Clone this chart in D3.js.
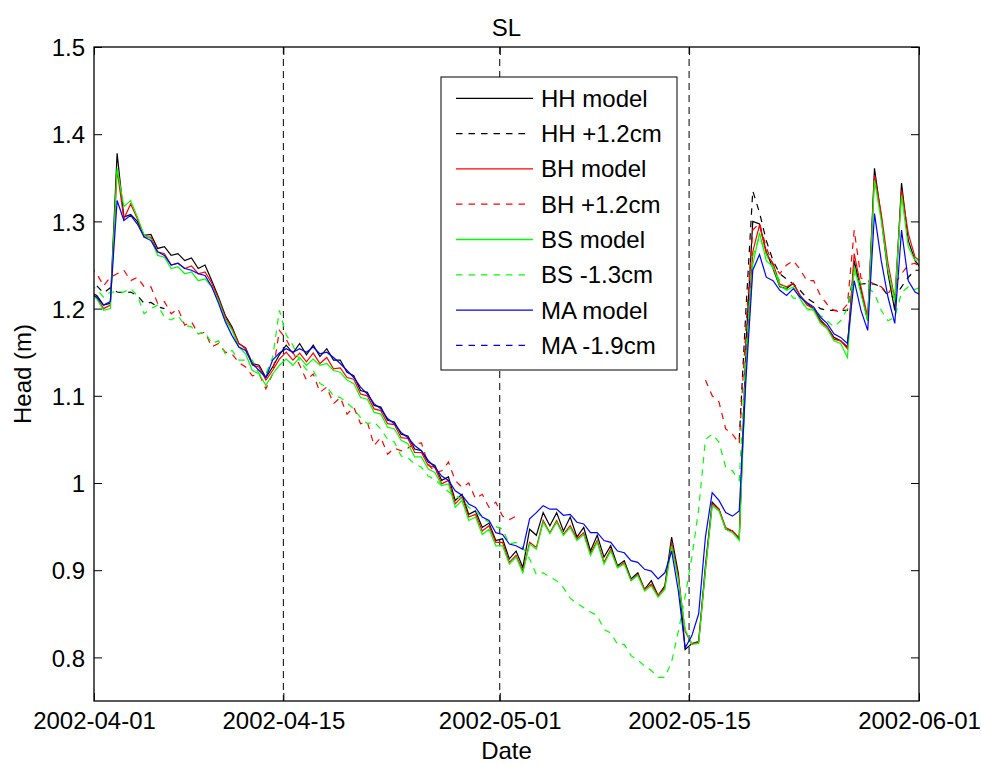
<!DOCTYPE html>
<html>
<head>
<meta charset="utf-8">
<title>SL</title>
<script src="https://cdn.jsdelivr.net/npm/d3@7"></script>
<style>
  html, body { margin: 0; padding: 0; background: #fff; }
  svg { display: block; font-family: "Liberation Sans", Arial, Helvetica, sans-serif; }
</style>
</head>
<body>
<svg id="chart" width="981" height="765"></svg>
<script>
// Half-day samples, first sample at 2002-03-31 17:00 UTC (clipped at the left axis)
const firstSampleMs = Date.UTC(2002, 2, 31, 17);
const sampleStepMs = 12 * 3600 * 1000;
const gap = n => new Array(n).fill(null);   // stretch without records

// Modelled heads (m)
const hhModel = [1.219,1.215,1.204,1.206,1.378,1.305,1.308,1.300,1.284,1.285,1.269,1.271,1.261,1.263,1.255,1.258,1.246,1.250,1.232,1.213,1.192,1.179,1.160,1.155,1.137,1.135,1.121,1.133,1.147,1.158,1.149,1.160,1.147,1.158,1.145,1.154,1.141,1.141,1.127,1.123,1.106,1.104,1.089,1.087,1.072,1.070,1.056,1.054,1.039,1.037,1.024,1.020,1.003,1.007,0.980,0.987,0.964,0.968,0.949,0.954,0.934,0.936,0.913,0.922,0.903,0.947,0.940,0.966,0.951,0.966,0.945,0.961,0.938,0.949,0.922,0.940,0.915,0.928,0.905,0.911,0.890,0.897,0.878,0.888,0.871,0.882,0.938,0.896,0.809,0.816,0.818,0.905,0.978,0.970,0.947,0.945,0.936,1.160,1.300,1.297,1.265,1.246,1.225,1.223,1.229,1.215,1.206,1.200,1.187,1.179,1.167,1.163,1.156,1.255,1.221,1.186,1.361,1.305,1.240,1.198,1.344,1.278,1.255,1.245];
const bhModel = [1.219,1.213,1.200,1.204,1.359,1.303,1.320,1.303,1.282,1.282,1.265,1.263,1.250,1.252,1.246,1.249,1.240,1.242,1.229,1.211,1.190,1.177,1.160,1.154,1.135,1.133,1.118,1.129,1.142,1.150,1.141,1.149,1.139,1.149,1.137,1.144,1.131,1.132,1.121,1.119,1.102,1.100,1.085,1.083,1.068,1.067,1.052,1.051,1.035,1.035,1.020,1.018,0.999,1.003,0.976,0.984,0.961,0.964,0.945,0.951,0.932,0.932,0.909,0.917,0.899,0.932,0.926,0.957,0.943,0.957,0.941,0.951,0.936,0.943,0.919,0.934,0.909,0.924,0.903,0.909,0.888,0.895,0.878,0.884,0.871,0.880,0.932,0.892,0.830,0.815,0.818,0.900,0.976,0.970,0.949,0.945,0.937,1.140,1.265,1.296,1.263,1.252,1.228,1.225,1.229,1.215,1.204,1.200,1.185,1.179,1.165,1.163,1.154,1.263,1.225,1.190,1.353,1.309,1.252,1.211,1.336,1.286,1.259,1.253];
const bsModel = [1.217,1.211,1.198,1.200,1.361,1.317,1.324,1.305,1.284,1.280,1.261,1.259,1.246,1.248,1.240,1.242,1.232,1.234,1.225,1.209,1.187,1.175,1.156,1.148,1.129,1.125,1.112,1.125,1.135,1.142,1.135,1.144,1.135,1.142,1.135,1.137,1.129,1.127,1.118,1.114,1.098,1.096,1.081,1.079,1.064,1.062,1.049,1.045,1.030,1.030,1.016,1.012,0.997,0.999,0.972,0.980,0.957,0.961,0.941,0.947,0.928,0.928,0.907,0.915,0.897,0.930,0.924,0.955,0.942,0.955,0.940,0.949,0.934,0.941,0.917,0.932,0.907,0.922,0.903,0.907,0.888,0.894,0.876,0.882,0.869,0.878,0.928,0.888,0.832,0.815,0.816,0.900,0.974,0.968,0.947,0.943,0.934,1.130,1.250,1.287,1.255,1.248,1.226,1.221,1.225,1.211,1.200,1.198,1.183,1.177,1.163,1.160,1.144,1.248,1.217,1.186,1.347,1.301,1.244,1.209,1.330,1.271,1.255,1.257];
const maModel = [1.217,1.213,1.204,1.208,1.324,1.301,1.307,1.297,1.282,1.278,1.265,1.261,1.250,1.252,1.246,1.244,1.240,1.238,1.225,1.206,1.185,1.169,1.156,1.152,1.137,1.129,1.121,1.141,1.149,1.154,1.150,1.154,1.150,1.156,1.148,1.150,1.144,1.137,1.129,1.121,1.110,1.102,1.091,1.085,1.074,1.068,1.058,1.052,1.043,1.037,1.026,1.018,1.008,1.003,0.991,0.986,0.976,0.972,0.961,0.957,0.943,0.941,0.930,0.928,0.924,0.959,0.966,0.974,0.970,0.970,0.963,0.964,0.955,0.953,0.943,0.943,0.934,0.932,0.922,0.920,0.911,0.909,0.901,0.899,0.890,0.897,0.922,0.876,0.811,0.825,0.850,0.938,0.989,0.980,0.966,0.962,0.968,1.120,1.244,1.262,1.236,1.232,1.221,1.215,1.223,1.213,1.207,1.202,1.190,1.183,1.171,1.167,1.160,1.232,1.198,1.175,1.309,1.255,1.213,1.183,1.290,1.232,1.219,1.215];

// Observed heads with datum offsets applied (m); null = no record
const hhObs = [1.238,1.226,1.218,1.224,1.219,1.218,1.219,1.215,1.206,1.207,1.202,1.200,
  ...gap(84),
  1.050,1.200,1.335,1.310,1.278,1.255,1.240,1.234,1.228,1.221,1.212,1.207,1.200,1.198,1.198,1.198,1.198,1.246,1.228,1.229,1.228,1.225,1.215,1.213,1.225,1.236,1.244,1.244];
const bhObs = [1.248,1.240,1.226,1.236,1.240,1.244,1.232,1.236,1.225,1.225,1.206,1.208,1.194,1.200,1.181,1.185,1.171,1.173,1.156,1.160,1.150,1.148,1.138,1.133,1.123,1.125,1.108,1.125,1.175,1.165,1.150,1.135,1.118,1.125,1.104,1.110,1.091,1.098,1.079,1.087,1.068,1.070,1.043,1.052,1.033,1.040,1.037,1.040,1.045,1.046,1.022,1.012,1.014,1.024,1.003,0.995,1.000,0.982,0.987,0.972,0.978,0.962,0.958,0.962,
  ...gap(27),
  1.118,1.100,1.093,1.062,1.056,1.045,1.180,1.290,1.298,1.270,1.250,1.240,1.250,1.255,1.245,1.232,1.232,1.215,1.205,1.198,1.196,1.205,1.290,1.235,1.232,1.228,1.225,1.217,1.228,1.240,1.250,1.252,1.245];
const bsObs = [1.228,1.222,1.213,1.219,1.219,1.219,1.223,1.215,1.194,1.200,1.204,1.190,1.187,1.192,1.181,1.179,1.171,1.173,1.160,1.163,1.148,1.152,1.141,1.141,1.141,1.125,1.125,1.144,1.198,1.170,1.158,1.140,1.130,1.129,1.114,1.110,1.100,1.098,1.092,1.085,1.075,1.068,1.070,1.062,1.050,1.047,1.031,1.029,1.022,1.018,1.008,1.004,0.997,0.990,0.985,0.982,0.972,0.968,0.960,0.955,0.950,0.947,0.930,0.932,0.926,0.913,0.895,0.897,0.892,0.888,0.880,0.868,0.862,0.857,0.852,0.848,0.832,0.828,0.815,0.815,0.802,0.797,0.790,0.785,0.777,0.777,0.795,0.830,0.870,0.915,0.970,1.050,1.056,1.047,1.018,1.014,1.003,1.150,1.260,1.282,1.262,1.246,1.232,1.222,1.212,1.212,1.198,1.200,1.192,1.186,1.179,1.186,1.200,1.240,1.229,1.225,1.217,1.198,1.186,1.190,1.218,1.225,1.222,1.225];
const maObs = [];

const seriesNames = ["HH model", "HH +1.2cm", "BH model", "BH +1.2cm", "BS model", "BS -1.3cm", "MA model", "MA -1.9cm"];
const seriesValues = [hhModel, hhObs, bhModel, bhObs, bsModel, bsObs, maModel, maObs];
const seriesColors = ["#000000", "#000000", "#ff0000", "#ff0000", "#00ff00", "#00ff00", "#0000ff", "#0000ff"];
const seriesDashed = [false, true, false, true, false, true, false, true];

// Axis ticks
const yTickValues = [0.8, 0.9, 1.0, 1.1, 1.2, 1.3, 1.4, 1.5];
const yTickLabels = ["0.8", "0.9", "1", "1.1", "1.2", "1.3", "1.4", "1.5"];
const xTickLabels = ["2002-04-01", "2002-04-15", "2002-05-01", "2002-05-15", "2002-06-01"];
const markerDates = ["2002-04-15", "2002-05-01", "2002-05-15"];

const parseDay = s => new Date(s + "T00:00:00Z");

const margin = { left: 94, right: 919, top: 47, bottom: 701 };
const svg = d3.select("#chart");

const x = d3.scaleUtc()
  .domain([parseDay("2002-04-01"), parseDay("2002-06-01")])
  .range([margin.left, margin.right]);
const y = d3.scaleLinear()
  .domain([0.75, 1.5])
  .range([margin.bottom, margin.top]);

const fontSize = 24;

svg.append("defs").append("clipPath").attr("id", "plot-clip")
  .append("rect")
  .attr("x", margin.left).attr("y", margin.top)
  .attr("width", margin.right - margin.left)
  .attr("height", margin.bottom - margin.top);

// Axes with inward ticks on all four sides
const xTicks = xTickLabels.map(parseDay);
const axisStyle = g => {
  g.select(".domain").remove();
  g.selectAll(".tick line").attr("stroke", "#000").attr("stroke-width", 1);
  g.selectAll(".tick text").attr("fill", "#000")
    .style("font-size", fontSize + "px")
    .style("font-family", '"Liberation Sans", Arial, sans-serif');
};

svg.append("g")
  .attr("transform", `translate(0,${margin.bottom})`)
  .call(d3.axisBottom(x).tickValues(xTicks).tickSize(-8).tickPadding(0)
    .tickFormat((d, i) => xTickLabels[i]))
  .call(axisStyle)
  .call(g => g.selectAll(".tick text").attr("y", 28).attr("dy", 0));

svg.append("g")
  .attr("transform", `translate(0,${margin.top})`)
  .call(d3.axisTop(x).tickValues(xTicks).tickSize(-8).tickFormat(""))
  .call(axisStyle);

svg.append("g")
  .attr("transform", `translate(${margin.left},0)`)
  .call(d3.axisLeft(y).tickValues(yTickValues).tickSize(-8).tickPadding(9)
    .tickFormat((d, i) => yTickLabels[i]))
  .call(axisStyle)
  .call(g => g.selectAll(".tick text").attr("dy", "0.36em"));

svg.append("g")
  .attr("transform", `translate(${margin.right},0)`)
  .call(d3.axisRight(y).tickValues(yTickValues).tickSize(-8).tickFormat(""))
  .call(axisStyle);

// Date markers
svg.append("g").selectAll("line")
  .data(markerDates.map(parseDay))
  .join("line")
  .attr("x1", d => x(d)).attr("x2", d => x(d))
  .attr("y1", margin.top).attr("y2", margin.bottom)
  .attr("stroke", "#000").attr("stroke-width", 1)
  .attr("stroke-dasharray", "7,5");

// Series
const sampleTime = i => new Date(firstSampleMs + i * sampleStepMs);
const line = d3.line()
  .defined(d => d.v != null)
  .x(d => x(d.t))
  .y(d => y(d.v));

const plot = svg.append("g").attr("clip-path", "url(#plot-clip)");
seriesValues.forEach((vals, s) => {
  const pts = vals.map((v, i) => ({ t: sampleTime(i), v }));
  if (!pts.some(p => p.v != null)) return;
  plot.append("path")
    .attr("d", line(pts))
    .attr("fill", "none")
    .attr("stroke", seriesColors[s])
    .attr("stroke-width", 1.2)
    .attr("stroke-linejoin", "miter")
    .attr("stroke-dasharray", seriesDashed[s] ? "6.5,6" : null);
});

// Axes box
svg.append("rect")
  .attr("x", margin.left).attr("y", margin.top)
  .attr("width", margin.right - margin.left)
  .attr("height", margin.bottom - margin.top)
  .attr("fill", "none").attr("stroke", "#000").attr("stroke-width", 1.3);

// Titles
svg.append("text")
  .attr("x", (margin.left + margin.right) / 2).attr("y", 36)
  .attr("text-anchor", "middle").style("font-size", fontSize + "px")
  .text("SL");
svg.append("text")
  .attr("x", (margin.left + margin.right) / 2).attr("y", 759)
  .attr("text-anchor", "middle").style("font-size", fontSize + "px")
  .text("Date");
svg.append("text")
  .attr("transform", `translate(31,${(margin.top + margin.bottom) / 2}) rotate(-90)`)
  .attr("text-anchor", "middle").style("font-size", fontSize + "px")
  .text("Head (m)");

// Legend
const legend = svg.append("g");
const legendBox = { x: 441, y: 77, w: 236, h: 293 };
legend.append("rect")
  .attr("x", legendBox.x).attr("y", legendBox.y)
  .attr("width", legendBox.w).attr("height", legendBox.h)
  .attr("fill", "#fff").attr("stroke", "#000").attr("stroke-width", 1);
const rowY = i => 98.3 + i * 35.3;
seriesNames.forEach((name, i) => {
  legend.append("line")
    .attr("x1", 456).attr("x2", seriesDashed[i] ? 526 : 533)
    .attr("y1", rowY(i)).attr("y2", rowY(i))
    .attr("stroke", seriesColors[i]).attr("stroke-width", 1.3)
    .attr("stroke-dasharray", seriesDashed[i] ? "6.5,6" : null);
  legend.append("text")
    .attr("x", 541).attr("y", rowY(i) + 8.4)
    .style("font-size", fontSize + "px")
    .text(name);
});
</script>
</body>
</html>
